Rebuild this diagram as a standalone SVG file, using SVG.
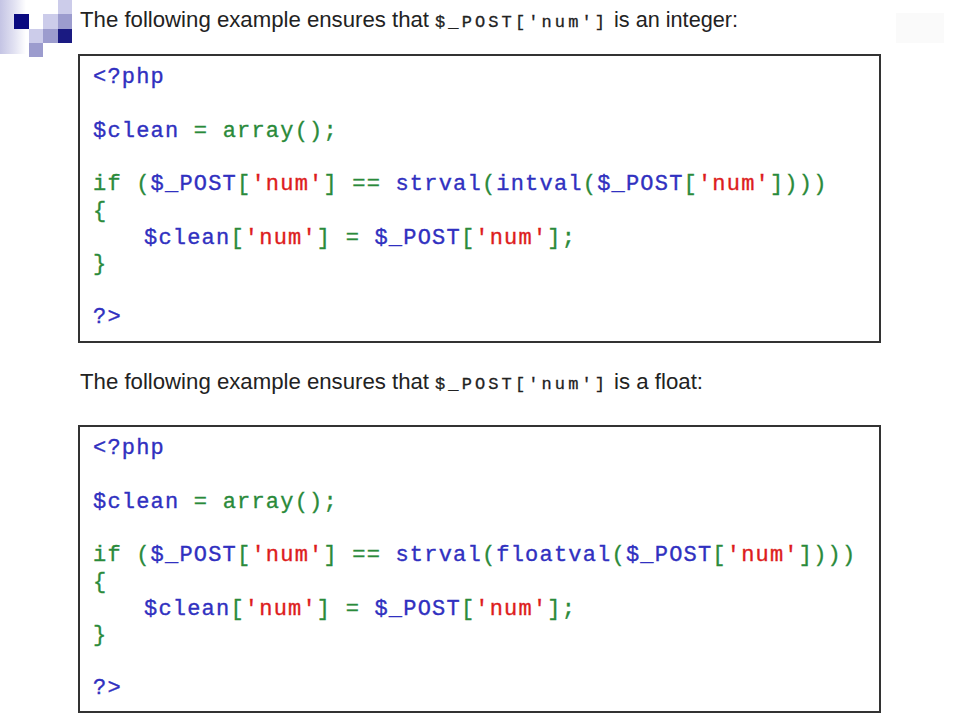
<svg xmlns="http://www.w3.org/2000/svg" width="960" height="720" viewBox="0 0 960 720">
<defs>
<linearGradient id="fade" x1="0" y1="0" x2="1" y2="0">
<stop offset="0" stop-color="#c4c4e4"/>
<stop offset="0.55" stop-color="#e2e2f2"/>
<stop offset="1" stop-color="#ffffff"/>
</linearGradient>
<style>
.title{font-family:"Liberation Sans",Arial,sans-serif;font-size:22px;fill:#222;}
.tmono{font-family:"Liberation Mono","Courier New",monospace;font-size:17px;fill:#222;stroke:#222;stroke-width:0.3px;}
.code{font-family:"Liberation Mono","Courier New",monospace;font-size:22px;letter-spacing:1.2px;white-space:pre;stroke-width:0.35px;}
.b{fill:#3030c0;stroke:#3030c0;}
.g{fill:#2a8a3a;stroke:#2a8a3a;}
.r{fill:#dd1c1c;stroke:#dd1c1c;}
.box{fill:#ffffff;stroke:#333333;stroke-width:2;}
.lt{fill:#ccccea;}
.md{fill:#9c9cce;}
.dk{fill:#0a0a80;}
</style>
</defs>
<rect width="960" height="720" fill="#ffffff"/>
<g id="logo">
<rect x="0" y="0" width="26" height="54" fill="url(#fade)"/>
<rect class="dk" x="14" y="14" width="15" height="15"/>
<rect class="lt" x="58" y="0" width="14" height="14"/>
<rect class="lt" x="43" y="14" width="15" height="15"/>
<rect class="md" x="58" y="14" width="14" height="15"/>
<rect class="lt" x="29" y="29" width="14" height="14"/>
<rect class="md" x="43" y="29" width="15" height="14"/>
<rect fill="#1a1a82" x="58" y="29" width="14" height="14"/>
<rect class="md" x="29" y="43" width="14" height="14"/>
</g>
<rect id="corner" x="896" y="13" width="48" height="30" fill="#fafafa"/>
<g id="title1">
<text class="title" x="80" y="27" textLength="349" lengthAdjust="spacingAndGlyphs">The following example ensures that</text>
<text class="tmono" x="435" y="27" textLength="170" lengthAdjust="spacing">$_POST['num']</text>
<text class="title" x="614" y="27" textLength="124" lengthAdjust="spacingAndGlyphs">is an integer:</text>
</g>
<g id="box1">
<rect class="box" x="79" y="55" width="801" height="287"/>
<text class="code" x="93" y="83"><tspan class="b">&lt;?php</tspan></text>
<text class="code" x="93" y="137"><tspan class="b">$clean</tspan><tspan class="g"> = array();</tspan></text>
<text class="code" x="93" y="190"><tspan class="g">if (</tspan><tspan class="b">$_POST</tspan><tspan class="g">[</tspan><tspan class="r">'num'</tspan><tspan class="g">] == </tspan><tspan class="b">strval</tspan><tspan class="g">(</tspan><tspan class="b">intval</tspan><tspan class="g">(</tspan><tspan class="b">$_POST</tspan><tspan class="g">[</tspan><tspan class="r">'num'</tspan><tspan class="g">])))</tspan></text>
<text class="code g" x="93" y="217">{</text>
<text class="code" x="144" y="244"><tspan class="b">$clean</tspan><tspan class="g">[</tspan><tspan class="r">'num'</tspan><tspan class="g">] = </tspan><tspan class="b">$_POST</tspan><tspan class="g">[</tspan><tspan class="r">'num'</tspan><tspan class="g">];</tspan></text>
<text class="code g" x="93" y="270">}</text>
<text class="code b" x="93" y="323">?&gt;</text>
</g>
<g id="title2">
<text class="title" x="80" y="389" textLength="349" lengthAdjust="spacingAndGlyphs">The following example ensures that</text>
<text class="tmono" x="435" y="389" textLength="170" lengthAdjust="spacing">$_POST['num']</text>
<text class="title" x="614" y="389" textLength="89" lengthAdjust="spacingAndGlyphs">is a float:</text>
</g>
<g id="box2">
<rect class="box" x="79" y="426" width="801" height="286"/>
<text class="code" x="93" y="454"><tspan class="b">&lt;?php</tspan></text>
<text class="code" x="93" y="508"><tspan class="b">$clean</tspan><tspan class="g"> = array();</tspan></text>
<text class="code" x="93" y="561"><tspan class="g">if (</tspan><tspan class="b">$_POST</tspan><tspan class="g">[</tspan><tspan class="r">'num'</tspan><tspan class="g">] == </tspan><tspan class="b">strval</tspan><tspan class="g">(</tspan><tspan class="b">floatval</tspan><tspan class="g">(</tspan><tspan class="b">$_POST</tspan><tspan class="g">[</tspan><tspan class="r">'num'</tspan><tspan class="g">])))</tspan></text>
<text class="code g" x="93" y="588">{</text>
<text class="code" x="144" y="615"><tspan class="b">$clean</tspan><tspan class="g">[</tspan><tspan class="r">'num'</tspan><tspan class="g">] = </tspan><tspan class="b">$_POST</tspan><tspan class="g">[</tspan><tspan class="r">'num'</tspan><tspan class="g">];</tspan></text>
<text class="code g" x="93" y="641">}</text>
<text class="code b" x="93" y="694">?&gt;</text>
</g>
</svg>
